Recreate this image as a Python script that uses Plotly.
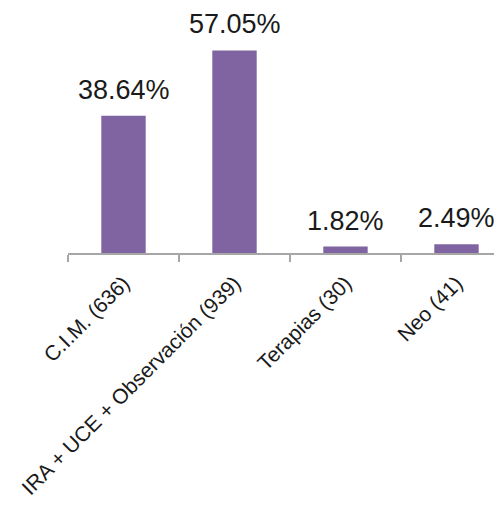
import plotly.graph_objects as go

categories = ["C.I.M. (636)", "IRA + UCE + Observación (939)", "Terapias (30)", "Neo (41)"]
values = [38.64, 57.05, 1.82, 2.49]
labels = ["38.64%", "57.05%", "1.82%", "2.49%"]

bar_color = "#8064A2"
font_family = "Liberation Sans, Arial, sans-serif"

fig = go.Figure()
fig.add_trace(go.Bar(
    x=categories, y=values, width=0.4,
    marker=dict(color=bar_color, line=dict(width=0)),
    hoverinfo="skip",
))

for c, v, t in zip(categories, values, labels):
    fig.add_annotation(x=c, y=v, text=t, showarrow=False, yanchor="bottom",
                       yshift=9, font=dict(size=27, color="#1a1a1a", family=font_family))

fig.update_layout(
    width=494, height=498,
    margin=dict(l=60, r=0, t=0, b=253),
    paper_bgcolor="white", plot_bgcolor="white",
    showlegend=False,
    xaxis=dict(
        range=[-0.5, 3.41], showline=True, linecolor="#a6a6a6", linewidth=1.5,
        ticks="outside", tickson="boundaries", ticklen=7, tickcolor="#a6a6a6", tickwidth=1.5,
        tickangle=-45, tickfont=dict(size=21, color="#1a1a1a", family=font_family),
        ticklabelstandoff=8,
        showgrid=False, automargin=False,
    ),
    yaxis=dict(range=[0, 69.0], visible=False, showgrid=False, zeroline=False),
)

fig.write_html("out.html")
